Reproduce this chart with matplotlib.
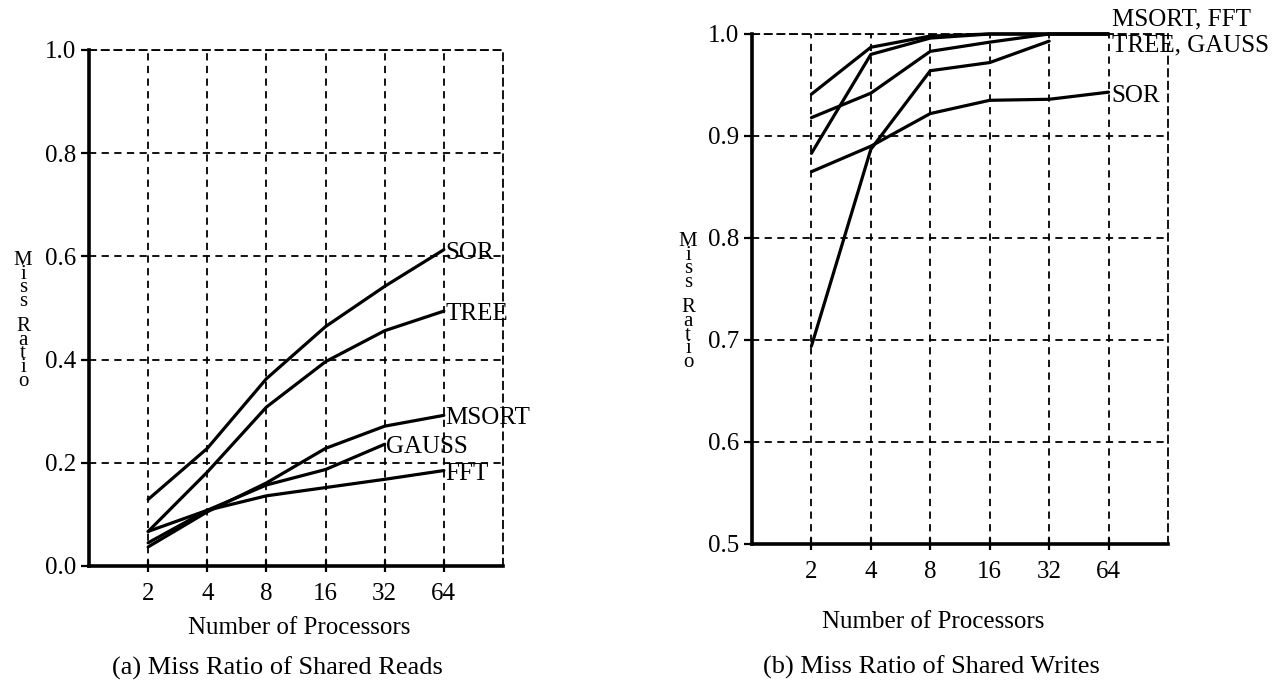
import matplotlib
matplotlib.use("Agg")
import matplotlib.pyplot as plt

# ---------------- data ----------------
procs = ["2", "4", "8", "16", "32", "64"]

# (a) shared reads
reads_SOR = [0.129, 0.228, 0.363, 0.464, 0.542, 0.613]
reads_TREE = [0.067, 0.182, 0.308, 0.396, 0.456, 0.494]
reads_MSORT = [0.037, 0.105, 0.161, 0.228, 0.271, 0.292]
reads_GAUSS = [0.045, 0.108, 0.157, 0.187, 0.236]
reads_FFT = [0.067, 0.108, 0.136, 0.152, 0.168, 0.185]

# (b) shared writes
writes_MSORT = [0.941, 0.987, 0.998, 1.0, 1.0, 1.0]
writes_FFT = [0.883, 0.980, 0.996, 1.0, 1.0, 1.0]
writes_TREE = [0.918, 0.942, 0.983, 0.992, 1.0, 1.0]
writes_GAUSS = [0.694, 0.887, 0.964, 0.972, 0.993]
writes_SOR = [0.865, 0.890, 0.922, 0.935, 0.936, 0.943]

reads_yticks = [0.0, 0.2, 0.4, 0.6, 0.8, 1.0]
writes_yticks = [0.5, 0.6, 0.7, 0.8, 0.9, 1.0]

# ---------------- style ----------------
plt.rcParams['font.family'] = ['Liberation Serif', 'DejaVu Serif']
FS = 18
W, H = 1285, 692
fig = plt.figure(figsize=(W / 100, H / 100), dpi=100)


def px(x, y):
    return x / W, 1 - y / H


def make_axes(l, t, r, b):
    x0, y0 = px(l, b)
    x1, y1 = px(r, t)
    return fig.add_axes([x0, y0, x1 - x0, y1 - y0])


def style(ax, yticks):
    n = len(procs)
    ax.set_xlim(0, n + 1)
    ax.set_ylim(yticks[0], yticks[-1])
    ax.set_xticks(range(1, n + 1))
    ax.set_xticklabels(procs, fontsize=FS)
    ax.set_yticks(yticks)
    ax.set_yticklabels([f"{v:.1f}" for v in yticks], fontsize=FS)
    ax.grid(True, color='black', linestyle=(0, (4, 3)), linewidth=1.3)
    for s in ['left', 'bottom']:
        ax.spines[s].set_linewidth(2.6)
    for s in ['top', 'right']:
        ax.spines[s].set_linestyle((0, (4, 3)))
        ax.spines[s].set_linewidth(1.3)
    ax.tick_params(axis='x', direction='inout', length=9, width=1.6, pad=8)
    ax.tick_params(axis='y', direction='out', length=6, width=1.6, pad=3)
    ax.set_axisbelow(True)


def stacked_label(x, y_miss, y_ratio):
    fig.text(*px(x, y_miss), "M\ni\ns\ns", fontsize=15, ha='center',
             va='center', multialignment='center', linespacing=0.64)
    fig.text(*px(x, y_ratio), "R\na\nt\ni\no", fontsize=15, ha='center',
             va='center', multialignment='center', linespacing=0.64)


LW = 2.3

# ---------------- (a) ----------------
ax1 = make_axes(89, 50, 503, 566)
style(ax1, reads_yticks)
for name, vals in [("SOR", reads_SOR), ("TREE", reads_TREE),
                   ("MSORT", reads_MSORT), ("GAUSS", reads_GAUSS),
                   ("FFT", reads_FFT)]:
    xs = list(range(1, len(vals) + 1))
    ax1.plot(xs, vals, color='black', lw=LW, solid_capstyle='round',
             solid_joinstyle='round', zorder=3)
    ax1.text(len(vals) + 0.03, vals[-1] - 0.006, name, fontsize=FS,
             ha='left', va='center', zorder=4, clip_on=False)

# ---------------- (b) ----------------
ax2 = make_axes(752, 34, 1168, 544)
style(ax2, writes_yticks)
for vals in [writes_MSORT, writes_FFT, writes_TREE, writes_GAUSS, writes_SOR]:
    xs = list(range(1, len(vals) + 1))
    ax2.plot(xs, vals, color='black', lw=LW, solid_capstyle='round',
             solid_joinstyle='round', zorder=3, clip_on=False)
n = len(procs)
ax2.text(n + 0.05, writes_MSORT[-1] + 0.014, "MSORT, FFT", fontsize=FS,
         ha='left', va='center', clip_on=False)
ax2.text(n + 0.05, writes_TREE[-1] - 0.011, "TREE, GAUSS", fontsize=FS,
         ha='left', va='center', clip_on=False)
ax2.text(n + 0.05, writes_SOR[-1] - 0.004, "SOR", fontsize=FS,
         ha='left', va='center', clip_on=False)

# ---------------- labels ----------------
stacked_label(23, 281, 354)
stacked_label(688, 262, 335)

fig.text(*px(299, 628), "Number of Processors", fontsize=FS, ha='center', va='center')
fig.text(*px(933, 622), "Number of Processors", fontsize=FS, ha='center', va='center')
fig.text(*px(277, 668), "(a) Miss Ratio of Shared Reads", fontsize=FS + 1,
         ha='center', va='center')
fig.text(*px(931, 667), "(b) Miss Ratio of Shared Writes", fontsize=FS + 1,
         ha='center', va='center')

fig.savefig("out.png", dpi=100)
